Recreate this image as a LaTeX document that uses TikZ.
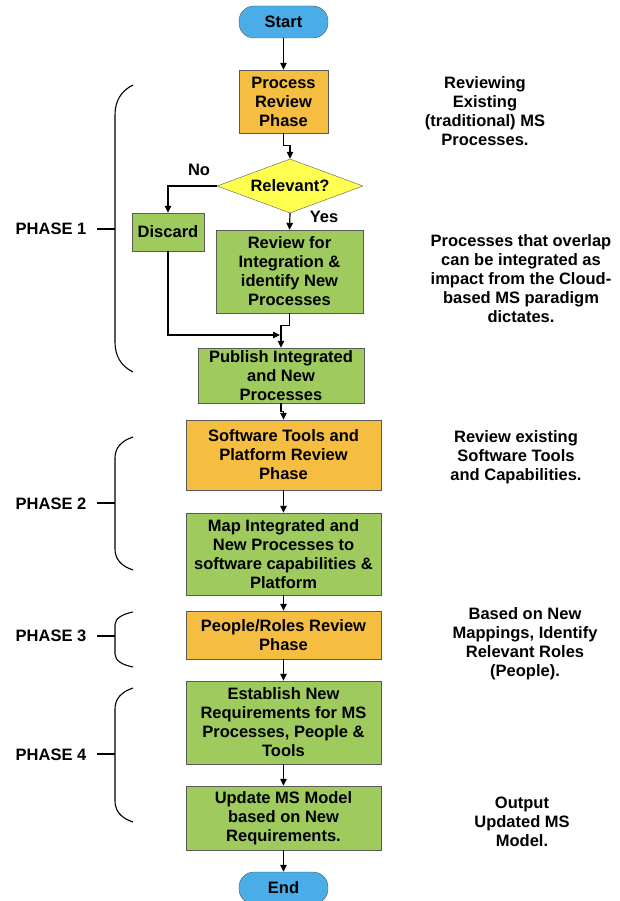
\documentclass[tikz,border=0pt]{standalone}
\usepackage{fontspec}
\setmainfont{Liberation Sans}
\usetikzlibrary{arrows.meta,shapes.geometric}

\definecolor{startblue}{HTML}{4AADE8}
\definecolor{phaseorange}{HTML}{F6BE41}
\definecolor{stepgreen}{HTML}{9FCA5D}
\definecolor{askyellow}{HTML}{FFFF4F}
\definecolor{boxline}{HTML}{5A5A5A}

\begin{document}
\begin{tikzpicture}[
  x=1pt, y=-1pt,
  font=\fontsize{16.5}{19}\selectfont\bfseries,
  >={Triangle[length=7pt,width=6.5pt]},
  term/.style={draw=boxline, fill=startblue, rounded corners=15pt, minimum width=89pt, minimum height=32pt, inner sep=0pt},
  phasebox/.style={draw=boxline, fill=phaseorange, align=center, inner sep=0pt},
  stepbox/.style={draw=boxline, fill=stepgreen, align=center, inner sep=0pt},
  ask/.style={draw=boxline, fill=askyellow, diamond, aspect=2.7, minimum width=146pt, minimum height=54pt, inner sep=0pt},
  flow/.style={->, line width=1.2pt},   % main flow arrows
  brace/.style={line width=1.1pt},      % phase brackets
  note/.style={align=center}
]
\useasboundingbox (0,0) rectangle (619,901);

% Flow nodes
\node[term] (start) at (283.5,22) {Start};
\node[phasebox, minimum width=89pt, minimum height=63pt] (procrev) at (283.5,101.5) {Process\\Review\\Phase};
\node[ask] (relevant) at (290,186) {Relevant?};
\node[stepbox, minimum width=72pt, minimum height=38pt] (discard) at (168,232) {Discard};
\node[stepbox, minimum width=147pt, minimum height=83pt] (integ) at (289.5,271.5) {Review for\\Integration \&\\identify New\\Processes};
\node[stepbox, minimum width=166pt, minimum height=55pt] (publish) at (281,375.5) {Publish Integrated\\and New\\Processes};
\node[phasebox, minimum width=195pt, minimum height=70pt] (toolrev) at (283.5,455) {Software Tools and\\Platform Review\\Phase};
\node[stepbox, minimum width=195pt, minimum height=82pt] (mapping) at (283.5,554) {Map Integrated and\\New Processes to\\software capabilities \&\\Platform};
\node[phasebox, minimum width=195pt, minimum height=48pt] (peoplerev) at (283.5,635) {People/Roles Review\\Phase};
\node[stepbox, minimum width=195pt, minimum height=83pt] (establish) at (283.5,722.5) {Establish New\\Requirements for MS\\Processes, People \&\\Tools};
\node[stepbox, minimum width=195pt, minimum height=64pt] (update) at (283.5,818) {Update MS Model\\based on New\\Requirements.};
\node[term] (finish) at (283.5,888) {End};

% Branch labels
\node (no)  at (199,170) {No};
\node (yes) at (324,217) {Yes};

% Flow arrows
\draw[flow] (start) -- (procrev);
\draw[flow] (procrev.south) -- ++(0,12) -| (relevant.north);
\draw[flow] (relevant.west) -| (discard.north);
\draw[flow] (relevant.south) -- (integ.north);
\coordinate (merge) at (281,335);
\draw[flow] (discard.south) |- ([xshift=-1pt]merge);
\draw[flow] (integ.south) -- ++(0,12) -| (publish.north);
\draw[flow] (publish.south) -- ++(0,8) -| (toolrev.north);
\draw[flow] (toolrev) -- (mapping);
\draw[flow] (mapping) -- (peoplerev);
\draw[flow] (peoplerev) -- (establish);
\draw[flow] (establish) -- (update);
\draw[flow] (update) -- (finish);

% Phase labels and brackets
\node (ph1) at (51,229) {PHASE 1};
\node (ph2) at (51,504) {PHASE 2};
\node (ph3) at (51,636) {PHASE 3};
\node (ph4) at (51,755) {PHASE 4};

\draw[brace] (133,85) .. controls (121,91) and (115,101) .. (115,115) -- (115,342) .. controls (115,356) and (121,366) .. (133,372);
\draw[brace] (97,229) -- (115,229);
\draw[brace] (133,437) .. controls (121,441) and (115,448) .. (115,458) -- (115,549) .. controls (115,559) and (121,566) .. (133,570);
\draw[brace] (97,503) -- (115,503);
\draw[brace] (133,612) .. controls (123,614) and (115,618) .. (115,625) -- (115,654) .. controls (115,661) and (123,665) .. (133,667);
\draw[brace] (97,636) -- (115,636);
\draw[brace] (133,688) .. controls (121,692) and (115,699) .. (115,709) -- (115,801) .. controls (115,811) and (121,818) .. (133,822);
\draw[brace] (97,754) -- (115,754);

% Notes on the right
\node[note] (n1) at (485,111) {Reviewing\\Existing\\(traditional) MS\\Processes.};
\node[note] (n2) at (521,279) {Processes that overlap\\can be integrated as\\impact from the Cloud-\\based MS paradigm\\dictates.};
\node[note] (n3) at (516,457) {Review existing\\Software Tools\\and Capabilities.};
\node[note] (n4) at (525,643.5) {Based on New\\Mappings, Identify\\Relevant Roles\\(People).};
\node[note] (n5) at (522,822) {Output\\Updated MS\\Model.};
\end{tikzpicture}
\end{document}
